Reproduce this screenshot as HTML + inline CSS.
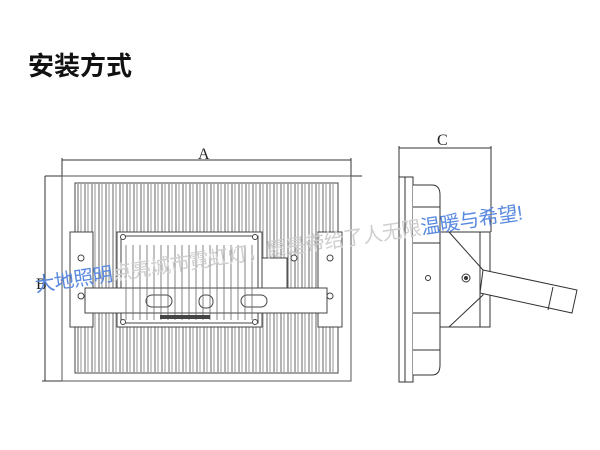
<!DOCTYPE html>
<html><head><meta charset="utf-8"><style>
html,body{margin:0;padding:0;background:#fff;width:600px;height:450px;overflow:hidden}
</style></head><body>
<svg width="600" height="450" viewBox="0 0 600 450" xmlns="http://www.w3.org/2000/svg" font-family="Liberation Serif, serif">
<rect width="600" height="450" fill="#fff"/>
<text x="28" y="75" font-family="Liberation Sans, Noto Sans CJK SC, sans-serif" font-weight="bold" font-size="26" fill="#111">安装方式</text>

<g stroke="#333" stroke-width="1" fill="none">
<line x1="62" y1="160" x2="351" y2="160"/>
<line x1="62" y1="158" x2="62" y2="381"/>
<line x1="351" y1="158" x2="351" y2="381"/>
<line x1="45" y1="176" x2="362" y2="176"/>
<line x1="45" y1="176" x2="45" y2="381"/>
<line x1="42" y1="381" x2="62" y2="381"/>
<rect x="62" y="176" width="289" height="205" stroke="#555"/>
<rect x="75" y="183" width="263" height="190" stroke="#444"/>
</g>
<text x="198" y="159" font-size="16" fill="#222">A</text>
<text x="36" y="289" font-size="16" fill="#222">B</text>
<g stroke="#555" stroke-width="0.9" fill="none">
<path d="M78 184V372M85 184V372M92 184V372M99 184V372M106 184V372M113 184V372M120 184V372M127 184V372M134 184V372M141 184V372M148 184V372M155 184V372M162 184V372M169 184V372M176 184V372M183 184V372M190 184V372M197 184V372M204 184V372M211 184V372M218 184V372M225 184V372M232 184V372M239 184V372M246 184V372M253 184V372M260 184V372M267 184V372M274 184V372M281 184V372M288 184V372M295 184V372M302 184V372M309 184V372M316 184V372M323 184V372M330 184V372"/>
<path d="M81 184V372M88 184V372M95 184V372M102 184V372M109 184V372M116 184V372M123 184V372M130 184V372M137 184V372M144 184V372M151 184V372M158 184V372M165 184V372M172 184V372M179 184V372M186 184V372M193 184V372M200 184V372M207 184V372M214 184V372M221 184V372M228 184V372M235 184V372M242 184V372M249 184V372M256 184V372M263 184V372M270 184V372M277 184V372M284 184V372M291 184V372M298 184V372M305 184V372M312 184V372M319 184V372M326 184V372M333 184V372" stroke="#888"/>
</g>
<g stroke="#444" stroke-width="1" fill="#fff">
<rect x="70" y="232" width="23" height="95"/>
<rect x="318" y="232" width="24" height="95"/>
<rect x="117" y="232" width="145" height="95"/>
<rect x="121" y="236" width="137" height="87" fill="none"/>
<rect x="262" y="258" width="25" height="30"/>
<path d="M85 288 H327 V313 H85 Z"/>
<rect x="146" y="295" width="26" height="12" rx="6"/>
<rect x="199" y="295" width="14" height="13" rx="6"/>
<rect x="241" y="295" width="26" height="12" rx="6"/>
<circle cx="123" cy="237" r="2.5"/><circle cx="255" cy="237" r="2.5"/>
<circle cx="123" cy="322" r="2.5"/><circle cx="255" cy="322" r="2.5"/>
<circle cx="81" cy="258" r="3"/><circle cx="330" cy="258" r="3"/>
<circle cx="81" cy="296" r="3"/><circle cx="330" cy="296" r="3"/>
<circle cx="294" cy="258" r="3"/>
</g>
<g stroke="#666" stroke-width="0.8">
<path d="M126 245V320M133 245V320M140 245V320M147 245V320M154 245V320M161 245V320M168 245V320M175 245V320M182 245V320M189 245V320M196 245V320M203 245V320M210 245V320M217 245V320M224 245V320M231 245V320M238 245V320M245 245V320M252 245V320"/>
</g>
<rect x="160" y="315" width="50" height="4" fill="#444"/>

<g stroke="#333" stroke-width="1" fill="none">
<line x1="399" y1="148" x2="491" y2="148"/>
<line x1="399" y1="146" x2="399" y2="382"/>
<line x1="491" y1="146" x2="491" y2="232"/>
<rect x="399" y="177" width="14" height="205" fill="#fff"/>
<line x1="405" y1="177" x2="405" y2="382"/>
<path d="M413 185 H432 Q440 185 440 195 V365 Q440 375 432 375 H413" fill="#fff"/>
<line x1="413" y1="207" x2="440" y2="207"/><line x1="413" y1="243" x2="440" y2="243"/>
<line x1="413" y1="313" x2="440" y2="313"/><line x1="413" y1="350" x2="440" y2="350"/>
<rect x="440" y="232" width="50" height="95" fill="#fff"/>
<path d="M449 232 L483 270 L483 295 L449 327"/>
<line x1="480" y1="232" x2="480" y2="327"/>
<polygon points="483,270 577,290 572,313 480,293" fill="#fff"/>
<line x1="553" y1="287" x2="548" y2="310"/>
<circle cx="466" cy="278" r="4"/><circle cx="428" cy="278" r="2.5"/>
</g>
<circle cx="466" cy="278" r="2" fill="#333"/>

<text x="437" y="145" font-size="16" fill="#222">C</text>
<text transform="translate(36,292) rotate(-8.5)" font-family="Liberation Sans, Noto Sans CJK SC, sans-serif" font-size="20" letter-spacing="-0.5"><tspan fill="#5a8ae0">大地照明</tspan><tspan fill="#cfcfcf">点亮城市霓虹灯，愿是带给了人无限</tspan><tspan fill="#5a8ae0">温暖与希望!</tspan></text>
</svg>
</body></html>
